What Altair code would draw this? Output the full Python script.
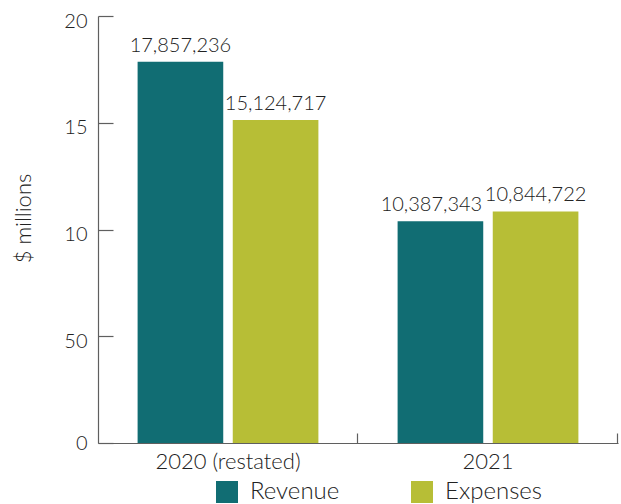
import altair as alt
import pandas as pd

years = ["2020 (restated)", "2021"]
series = ["Revenue", "Expenses"]
revenue = [17857236, 10387343]
expenses = [15124717, 10844722]
y_ticks = [0, 5, 10, 15, 20]
y_tick_labels = ["0", "50", "10", "15", "20"]
colors = ["#116d73", "#b7be36"]

rows = []
for i, yr in enumerate(years):
    rows.append({"year": yr, "series": "Revenue", "amount": revenue[i]})
    rows.append({"year": yr, "series": "Expenses", "amount": expenses[i]})
df = pd.DataFrame(rows)

FONT = "Lato"
FW = 300
AXIS_GRAY = "#5f5f5f"

label_expr = "[" + ",".join(f"'{s}'" for s in y_tick_labels) + "][indexof([" + ",".join(str(v) for v in y_ticks) + "], datum.value)]"

base = alt.Chart(df).transform_calculate(millions="datum.amount / 1000000")

x_scale = alt.Scale(domain=years, paddingInner=0.29, paddingOuter=0.145)
y_scale = alt.Scale(domain=[0, 20], nice=False)
xo_scale = alt.Scale(domain=series, paddingInner=0.1, paddingOuter=0.02)
color_scale = alt.Scale(domain=series, range=colors)

bars = base.mark_bar().encode(
    x=alt.X("year:N", scale=x_scale, sort=years, axis=alt.Axis(
        orient="bottom", title=None, ticks=False, domain=True, domainColor=AXIS_GRAY,
        domainWidth=1.2, labelAngle=0, labelFont=FONT, labelFontSize=22, labelFontWeight=FW,
        labelColor="#222222", labelPadding=8, labelBaseline="top")),
    xOffset=alt.XOffset("series:N", scale=xo_scale, sort=series),
    y=alt.Y("millions:Q", scale=y_scale, axis=alt.Axis(
        orient="left", values=y_ticks, labelExpr=label_expr, ticks=False, grid=False,
        domain=True, domainColor=AXIS_GRAY, domainWidth=1.2,
        labelFont=FONT, labelFontSize=20, labelFontWeight=FW, labelColor="#222222", labelPadding=11,
        labelOffset={"condition": {"test": "datum.value === 0", "value": 0}, "value": 5},
        title="$ millions", titleFont=FONT, titleFontSize=22, titleFontWeight=FW,
        titleColor="#222222", titlePadding=28, titleY=202)),
    color=alt.Color("series:N", scale=color_scale, sort=series, legend=alt.Legend(
        title=None, orient="none", legendX=117, legendY=464, direction="horizontal",
        symbolType="square", symbolSize=484, symbolStrokeWidth=0, symbolOpacity=1,
        labelFont=FONT, labelFontSize=24, labelFontWeight=FW, labelColor="#222222", labelOffset=11,
        columnPadding=70)),
)

text_common = dict(font=FONT, fontSize=20, fontWeight=FW, color="#222222", baseline="alphabetic", dy=-10)

labels_main = base.transform_filter(
    "!(datum.year == '2021' && datum.series == 'Revenue')"
).mark_text(align="center", **text_common).encode(
    x=alt.X("year:N", scale=x_scale, sort=years, axis=None),
    xOffset=alt.XOffset("series:N", scale=xo_scale, sort=series),
    y=alt.Y("millions:Q", scale=y_scale, axis=None),
    text=alt.Text("amount:Q", format=","),
)

labels_shift = base.transform_filter(
    "datum.year == '2021' && datum.series == 'Revenue'"
).mark_text(align="center", dx=-9, **text_common).encode(
    x=alt.X("year:N", scale=x_scale, sort=years, axis=None),
    xOffset=alt.XOffset("series:N", scale=xo_scale, sort=series),
    y=alt.Y("millions:Q", scale=y_scale, axis=None),
    text=alt.Text("amount:Q", format=","),
)

ticks_layer = base.mark_bar(opacity=0).encode(
    x=alt.X("year:N", scale=x_scale, sort=years, axis=alt.Axis(
        orient="bottom", title=None, labels=False, domain=False, ticks=True,
        tickOffset=129, tickSize=10, offset=-10, tickColor=AXIS_GRAY, tickWidth=1.2)),
    y=alt.Y("millions:Q", scale=y_scale, axis=alt.Axis(
        orient="left", title=None, labels=False, domain=False, ticks=True, grid=False,
        values=y_ticks, tickSize=15, offset=-15, tickColor=AXIS_GRAY, tickWidth=1.2)),
)

chart = alt.layer(bars, labels_main, labels_shift, ticks_layer).resolve_axis(
    x="independent", y="independent"
).properties(
    width=520, height=427, autosize="none",
    padding={"left": 98, "top": 16, "right": 3, "bottom": 61},
    background="white",
).configure_view(stroke=None)

chart.save("out.html", embed_options={"renderer": "svg", "actions": False})
